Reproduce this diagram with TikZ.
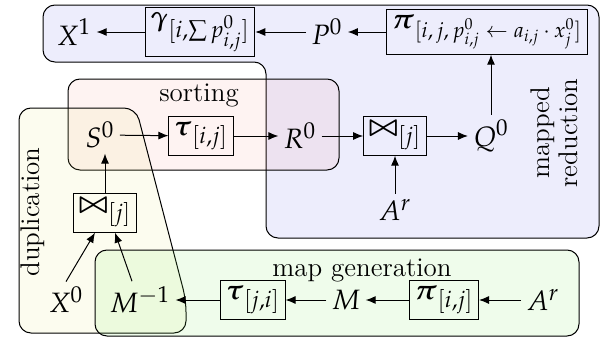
\documentclass[tikz,border=0pt,12pt]{standalone}
\usepackage{amsmath,amssymb}
\usepackage{mathpazo}
\usetikzlibrary{arrows.meta}
\DeclareMathSizes{14}{14}{11.5}{9.5}
\DeclareMathSizes{10.5}{10.5}{8}{6.5}
\definecolor{bluef}{RGB}{80,80,230}
\definecolor{pinkf}{RGB}{240,100,90}
\definecolor{yellowf}{RGB}{230,230,100}
\definecolor{greenf}{RGB}{120,230,90}
\newcommand{\jn}{\boldsymbol{\bowtie}}
\newcommand{\bigsub}[1]{\mbox{\fontsize{10.5}{12}\selectfont$#1$}}
\begin{document}
\begin{tikzpicture}[x=0.5pt,y=-0.5pt,
  mfont/.style={font=\fontsize{14}{17}\selectfont},
  op/.style={mfont,draw,line width=0.5pt,inner sep=2.5pt},
  var/.style={mfont,inner sep=2.5pt},
  arr/.style={-{Latex[length=5pt,width=4pt]},line width=0.5pt},
  region/.style={draw,line width=0.5pt,rounded corners=6pt},
  lbl/.style={inner sep=0pt,align=center,font=\fontsize{13.5}{14}\selectfont}]
\useasboundingbox (0,0) rectangle (611,337);
% regions
\path[region,fill=bluef,fill opacity=0.1]
  (43,5) -- (599,5) -- (599,238) -- (266,238) -- (266,62) -- (43,62) -- cycle;
\path[region,fill=pinkf,fill opacity=0.08]
  (68,79) rectangle (339,170);
\path[region,fill=yellowf,fill opacity=0.1]
  (19,108) -- (136,108) -- (186,300) -- (186,333) -- (19,333) -- cycle;
\path[region,fill=greenf,fill opacity=0.12]
  (95,250) rectangle (579,336);
% labels
\node[lbl] (lsort) at (199,95) {sorting};
\node[lbl] (lmap) at (362,270) {map generation};
\node[lbl,rotate=90] (lred) at (554,133) {mapped\\reduction};
\node[lbl,rotate=90] (ldup) at (33,212) {duplication};
% top row
\node[var] (X1) at (74,32) {$X^1$};
\node[op] (gam) at (200,32) {$\boldsymbol{\gamma}_{[i,\sum p^0_{i,j}]}$};
\node[var] (P0) at (327,32) {$P^0$};
\node[op] (pi1) at (487,32) {$\boldsymbol{\pi}_{\bigsub{[i,j,p^0_{i,j}\leftarrow a_{i,j}\cdot x^0_j]}}$};
% middle row
\node[var] (S0) at (100,135) {$S^0$};
\node[op] (tau1) at (201,136) {$\boldsymbol{\tau}_{[i,j]}$};
\node[var] (R0) at (300,136) {$R^0$};
\node[op] (join1) at (395,136) {$\jn_{[j]}$};
\node[var] (Q0) at (491,136) {$Q^0$};
\node[var] (Ar1) at (395,210) {$A^r$};
% duplication
\node[op] (join2) at (105,213) {$\jn_{[j]}$};
% bottom row
\node[var] (X0) at (66,300) {$X^0$};
\node[var] (Minv) at (140,300) {$M^{-1}$};
\node[op] (tau2) at (253,300) {$\boldsymbol{\tau}_{[j,i]}$};
\node[var] (M) at (346,300) {$M$};
\node[op] (pi2) at (444,300) {$\boldsymbol{\pi}_{[i,j]}$};
\node[var] (Ar2) at (543,300) {$A^r$};
% arrows
\draw[arr] (gam) -- (X1);
\draw[arr] (P0) -- (gam);
\draw[arr] (pi1) -- (P0);
\draw[arr] (Q0.north) -- (Q0.north |- pi1.south);
\draw[arr] (S0) -- (tau1);
\draw[arr] (tau1) -- (R0);
\draw[arr] (R0) -- (join1);
\draw[arr] (join1) -- (Q0);
\draw[arr] (Ar1) -- (join1);
\draw[arr] (join2.north) -- (join2.north |- S0.south);
\draw[arr] (X0.north) -- ([xshift=-5pt]join2.south);
\draw[arr] ([xshift=-4pt]Minv.north) -- ([xshift=5pt]join2.south);
\draw[arr] (tau2) -- (Minv);
\draw[arr] (M) -- (tau2);
\draw[arr] (pi2) -- (M);
\draw[arr] (Ar2) -- (pi2);
\end{tikzpicture}
\end{document}
